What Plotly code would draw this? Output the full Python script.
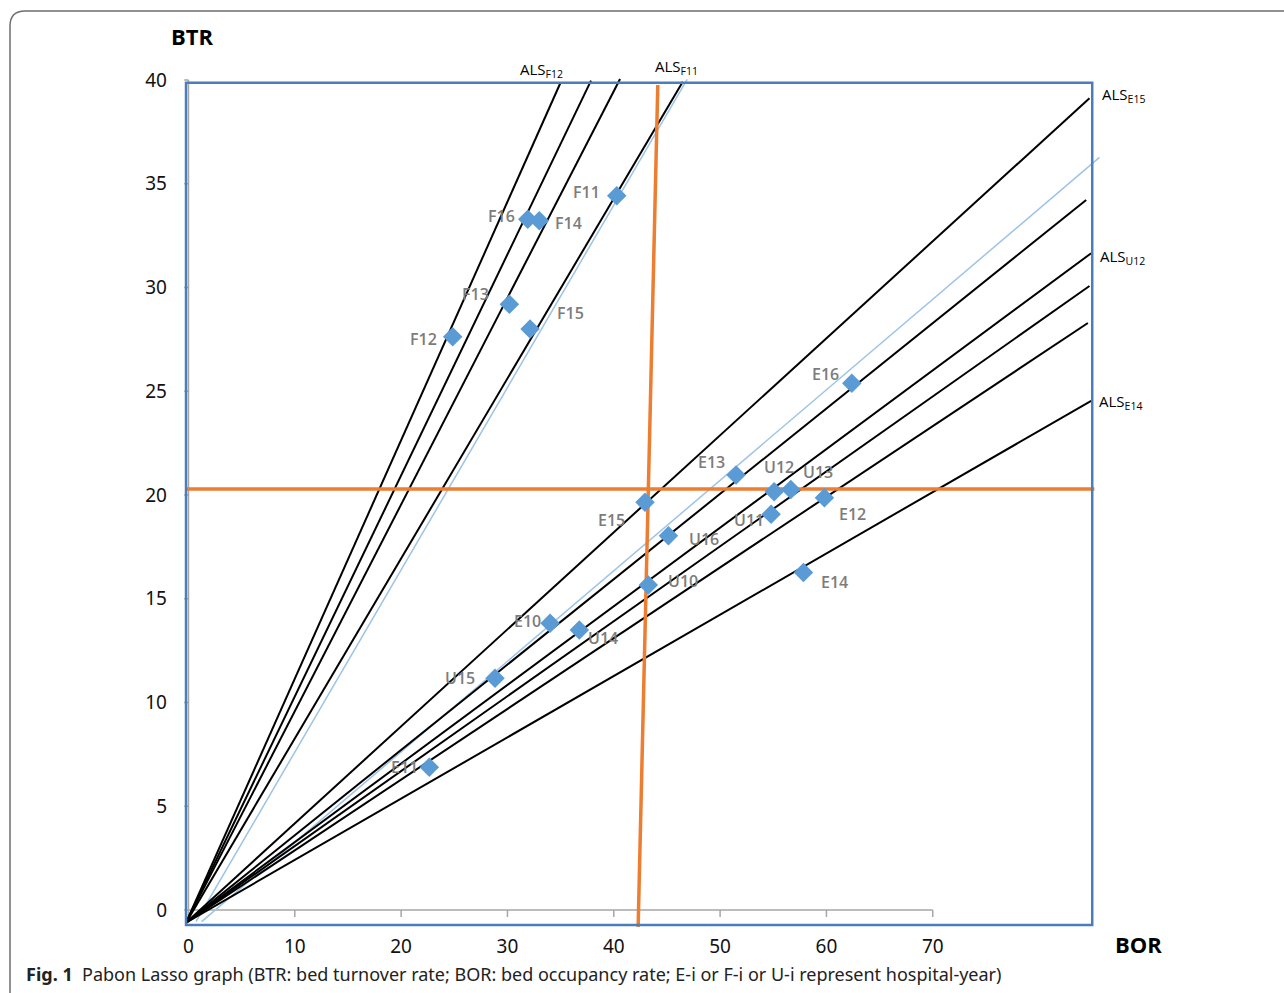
import plotly.graph_objects as go

# ---------------- data ----------------
labels = ["F11", "F16", "F14", "F13", "F15", "F12",
          "E16", "E13", "U12", "U13", "E12", "E15", "U11", "U16",
          "E14", "U10", "E10", "U14", "U15", "E11"]
bor = [40.28, 31.91, 33.00, 30.18, 32.13, 24.85,
       62.39, 51.50, 55.08, 56.65, 59.81, 42.94, 54.80, 45.14,
       57.84, 43.25, 34.01, 36.76, 28.83, 22.65]
btr = [34.42, 33.29, 33.22, 29.19, 28.00, 27.63,
       25.38, 20.96, 20.16, 20.27, 19.87, 19.65, 19.07, 18.04,
       16.26, 15.66, 13.82, 13.49, 11.17, 6.88]

# ALS lines: common start point and end points (BOR, BTR)
als_origin = (-0.23, -0.61)
als_end_bor = [35.01, 37.86, 40.59, 46.49, 84.74, 84.43, 84.90, 84.74, 84.59, 84.90]
als_end_btr = [39.89, 39.97, 40.05, 39.92, 39.12, 34.22, 31.65, 30.07, 28.29, 24.54]

# light blue reference lines (start BOR, start BTR, end BOR, end BTR)
ref_x0 = [0.71, 1.24]
ref_y0 = [-0.56, -0.56]
ref_x1 = [46.90, 85.68]
ref_y1 = [40.03, 36.27]

# average lines (orange)
mean_btr = 20.29
mean_bor_top = (44.14, 39.76)
mean_bor_bottom = (42.29, -0.87)

x_ticks = [0, 10, 20, 30, 40, 50, 60, 70]
y_ticks = [0, 5, 10, 15, 20, 25, 30, 35, 40]

als_labels = ["F12", "F11", "E15", "U12", "E14"]

# ---------------- layout geometry ----------------
W, H = 1284, 993
ML, MR, MT, MB = 184, 174, 75, 66
XR = [-0.42, 86.67]
YR = [-0.82, 40.24]


def px(xp):
    return (xp - ML) / (W - ML - MR)


def py(yp):
    return (H - MB - yp) / (H - MT - MB)


fig = go.Figure()

# gray axes
axis_x, axis_y = [], []
axis_x += [0, x_ticks[-1], None, 0, 0, None]
axis_y += [0, 0, None, 0, y_ticks[-1], None]
for t in x_ticks:
    axis_x += [t, t, None]
    axis_y += [0, -0.34, None]
for t in y_ticks:
    axis_x += [-0.4, 0, None]
    axis_y += [t, t, None]
fig.add_trace(go.Scatter(x=axis_x, y=axis_y, mode="lines",
                         line=dict(color="#A6A6A6", width=1.5),
                         hoverinfo="skip", showlegend=False))

# light blue lines
for a, b, c, d in zip(ref_x0, ref_y0, ref_x1, ref_y1):
    fig.add_trace(go.Scatter(x=[a, c], y=[b, d], mode="lines",
                             line=dict(color="#9DC3E6", width=1.5),
                             hoverinfo="skip", showlegend=False))

# ALS black lines
for xe, ye in zip(als_end_bor, als_end_btr):
    fig.add_trace(go.Scatter(x=[als_origin[0], xe], y=[als_origin[1], ye],
                             mode="lines", line=dict(color="black", width=2),
                             hoverinfo="skip", showlegend=False))

# orange mean lines
fig.add_trace(go.Scatter(x=[-0.23, 85.2], y=[mean_btr, mean_btr], mode="lines",
                         line=dict(color="#ED7D31", width=3.5),
                         hoverinfo="skip", showlegend=False))
fig.add_trace(go.Scatter(x=[mean_bor_top[0], mean_bor_bottom[0]],
                         y=[mean_bor_top[1], mean_bor_bottom[1]], mode="lines",
                         line=dict(color="#ED7D31", width=3.5),
                         hoverinfo="skip", showlegend=False))

# points
fig.add_trace(go.Scatter(x=bor, y=btr, mode="markers",
                         marker=dict(symbol="diamond", size=15, color="#5B9BD5"),
                         showlegend=False))

# point labels (pixel offsets)
offsets = {
    "F11": (-30, -4), "F16": (-26, -3), "F14": (29, 2), "F13": (-34, -10),
    "F15": (40, -16), "F12": (-29, 2), "E16": (-26, -9), "E13": (-25, -13),
    "U12": (5, -25), "U13": (27, -17), "E12": (28, 16), "E15": (-34, 18),
    "U11": (-22, 6), "U16": (36, 3), "E14": (31, 9), "U10": (35, -4),
    "E10": (-23, -2), "U14": (24, 8), "U15": (-35, 0), "E11": (-25, 0),
}
for lab, xv, yv in zip(labels, bor, btr):
    dx, dy = offsets[lab]
    fig.add_annotation(x=xv, y=yv, text=lab, showarrow=False,
                       xshift=dx, yshift=-dy, xanchor="center", yanchor="middle",
                       font=dict(family="Open Sans", size=16, color="#7C7C7C", weight=600))

# ALS labels
als_pos = [(541, 70), (676, 67), (1123, 95), (1122, 257), (1120, 402)]
for lab, (xp, yp) in zip(als_labels, als_pos):
    fig.add_annotation(xref="paper", yref="paper", x=px(xp), y=py(yp),
                       xanchor="center", yanchor="middle",
                       text="ALS<sub>" + lab + "</sub>", showarrow=False,
                       font=dict(family="Open Sans", size=15, color="black"))

# axis titles
fig.add_annotation(xref="paper", yref="paper", x=px(192), y=py(36), text="<b>BTR</b>",
                   xanchor="center", yanchor="middle",
                   showarrow=False, font=dict(family="Open Sans", size=22, color="black"))
fig.add_annotation(xref="paper", yref="paper", x=px(1138), y=py(944), text="<b>BOR</b>",
                   xanchor="center", yanchor="middle",
                   showarrow=False, font=dict(family="Open Sans", size=22, color="black"))

# caption
fig.add_annotation(xref="paper", yref="paper", x=px(24), y=py(974), xanchor="left", yanchor="middle",
                   text="<b>Fig. 1</b>\u00a0\u00a0Pabon Lasso graph (BTR: bed turnover rate; BOR: bed occupancy rate; E-i or F-i or U-i represent hospital-year)",
                   showarrow=False, font=dict(family="Noto Sans", size=18, color="#222222"))

# frame and border
fig.add_shape(type="rect", xref="x", yref="y", x0=-0.23, x1=85.0, y0=-0.72, y1=39.87,
              line=dict(color="#4A7EBB", width=2.5), layer="above")
fig.add_shape(type="path", xref="paper", yref="paper",
              path=f"M {px(10)} {py(1000)} L {px(10)} {py(26)} Q {px(10)} {py(11)} {px(25)} {py(11)} L {px(1300)} {py(11)}",
              line=dict(color="#6E6E6E", width=1.5))

fig.update_xaxes(range=XR, tickvals=x_ticks, showgrid=False, zeroline=False,
                 showline=False, ticks="", ticklabelstandoff=6,
                 tickfont=dict(family="Noto Sans", size=19, color="#111111"))
fig.update_yaxes(range=YR, tickvals=y_ticks, showgrid=False, zeroline=False,
                 showline=False, ticks="", ticklabelstandoff=16,
                 tickfont=dict(family="Noto Sans", size=19, color="#111111"))

fig.update_layout(width=W, height=H, margin=dict(l=ML, r=MR, t=MT, b=MB),
                  plot_bgcolor="white", paper_bgcolor="white", showlegend=False)

fig.write_html("out.html", config={"displayModeBar": False},
               post_script="document.body.style.margin='0';document.body.style.overflow='hidden';")
